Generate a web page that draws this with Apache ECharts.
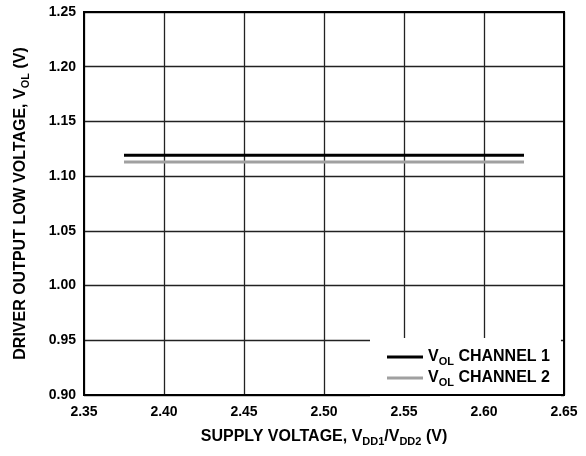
<!DOCTYPE html>
<html><head><meta charset="utf-8">
<script src="https://cdn.jsdelivr.net/npm/echarts@6/dist/echarts.min.js"></script>
<style>html,body{margin:0;padding:0;background:#fff}#c{width:586px;height:456px}</style>
</head><body><div id="c"></div>
<script>
const supplyV = [2.375, 2.625];
const volCh1 = [1.119, 1.119];
const volCh2 = [1.113, 1.113];
const seriesNames = ['VOL CHANNEL 1', 'VOL CHANNEL 2'];

const FONT = '"Liberation Sans", Arial, sans-serif';
const chart = echarts.init(document.getElementById('c'), null, {renderer: 'canvas'});
const rich = {
  n: {fontFamily: FONT, fontWeight: 'bold', fontSize: 16, color: '#000', lineHeight: 18},
  s: {fontFamily: FONT, fontWeight: 'bold', fontSize: 11, color: '#000', lineHeight: 18, padding: [9, 0, 0, 0]}
};
chart.setOption({
  animation: false,
  backgroundColor: '#fff',
  grid: {left: 84, right: 22, top: 12, bottom: 61, containLabel: false},
  xAxis: {
    type: 'value', min: 2.35, max: 2.65, interval: 0.05,
    name: '{n|SUPPLY VOLTAGE, V}{s|DD1}{n|/V}{s|DD2}{n| (V)}',
    nameLocation: 'middle', nameGap: 33,
    nameTextStyle: {rich: rich},
    axisLine: {show: true, lineStyle: {color: '#000', width: 2}},
    axisTick: {show: false},
    axisLabel: {fontFamily: FONT, fontWeight: 'bold', fontSize: 14, color: '#000', margin: 10, formatter: v => v.toFixed(2)},
    splitLine: {show: true, lineStyle: {color: '#222', width: 1.3}}
  },
  yAxis: {
    type: 'value', min: 0.90, max: 1.25, interval: 0.05,
    name: '{n|DRIVER OUTPUT LOW VOLTAGE, V}{s|OL}{n| (V)}',
    nameLocation: 'middle', nameGap: 54, nameRotate: 90,
    nameTextStyle: {rich: rich},
    axisLine: {show: true, lineStyle: {color: '#000', width: 2}},
    axisTick: {show: false},
    axisLabel: {fontFamily: FONT, fontWeight: 'bold', fontSize: 14, color: '#000', margin: 8, formatter: v => v.toFixed(2)},
    splitLine: {show: true, lineStyle: {color: '#222', width: 1.3}}
  },
  legend: {
    orient: 'vertical', left: 370, top: 338,
    backgroundColor: '#fff',
    padding: [9, 11, 9, 17],
    itemGap: 1,
    icon: 'rect', itemWidth: 36, itemHeight: 3,
    data: seriesNames,
    formatter: name => '{n|V}{s|OL}{n|' + name.slice(3) + '}',
    textStyle: {rich: rich}
  },
  series: [
    {name: seriesNames[0], type: 'line', data: supplyV.map((x, i) => [x, volCh1[i]]), showSymbol: false, symbol: 'none',
     lineStyle: {color: '#000', width: 3}, itemStyle: {color: '#000'}, z: 3},
    {name: seriesNames[1], type: 'line', data: supplyV.map((x, i) => [x, volCh2[i]]), showSymbol: false, symbol: 'none',
     lineStyle: {color: '#a0a0a0', width: 3}, itemStyle: {color: '#a0a0a0'}, z: 3}
  ],
  graphic: [{
    type: 'rect', shape: {x: 84, y: 12, width: 480, height: 383}, silent: true, z: 100,
    style: {fill: 'none', stroke: '#000', lineWidth: 2}
  }]
});
</script></body></html>
